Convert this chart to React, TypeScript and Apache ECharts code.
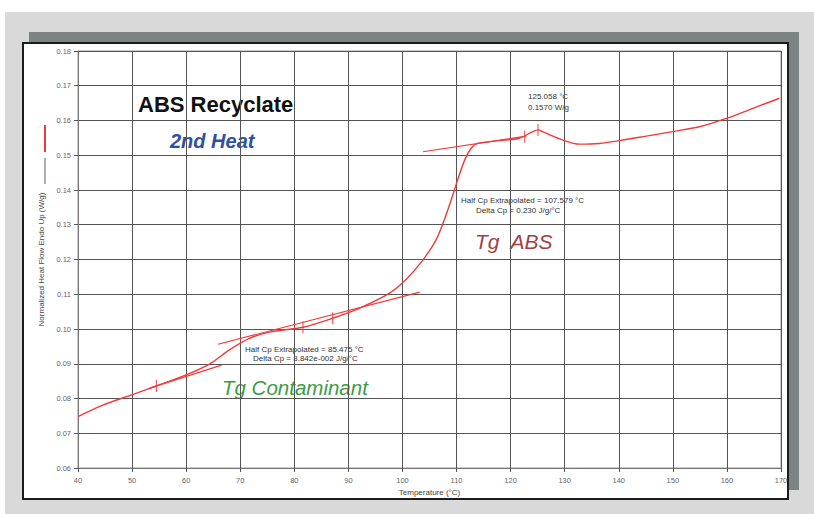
import React, { useEffect, useRef } from "react";
import * as echarts from "echarts";

const temps = [40, 44.6, 50.2, 54.5, 60.0, 64.3, 68.0, 71.7, 75.4, 81.6, 87.1, 92.1, 97.6, 100.7, 103.8, 106.2, 107.5, 109.0, 110.2, 111.5, 112.7, 113.9, 117.9, 121.6, 124.1, 125.06, 126.0, 129.6, 132.7, 136.4, 140.1, 145.1, 150.0, 154.9, 159.9, 164.8, 169.7];
const heatFlow = [0.0748, 0.0781, 0.0812, 0.0836, 0.0868, 0.0899, 0.094, 0.0973, 0.0991, 0.1005, 0.1031, 0.106, 0.1103, 0.1143, 0.1199, 0.1256, 0.1304, 0.1371, 0.1429, 0.1486, 0.152, 0.1534, 0.1542, 0.1549, 0.1568, 0.1573, 0.1567, 0.1544, 0.1532, 0.1534, 0.1542, 0.1555, 0.1568, 0.1582, 0.1606, 0.1635, 0.1664];

const tangentContaminantLow = [[53.25, 0.083], [66.56, 0.0896]];
const tangentContaminantHigh = [[65.9, 0.0956], [103.2, 0.1106]];
const tangentAbsHigh = [[103.8, 0.151], [122.9, 0.1555]];
const analysisMarks = [[54.5, 0.0836], [81.6, 0.1005], [87.1, 0.1031], [122.6, 0.1553], [125.06, 0.1573]];

const xMin = 40;
const xMax = 170;
const yMin = 0.06;
const yMax = 0.18;

const RED = "#f03a3a";
const FONT = "Liberation Sans, Arial, sans-serif";

export default function App() {
  const ref = useRef<HTMLDivElement>(null);
  useEffect(() => {
    if (!ref.current) return;
    const chart = echarts.init(ref.current, undefined, { renderer: "svg" });
    const lineSeries = (data: number[][]) => ({
      type: "line",
      data,
      symbol: "none",
      lineStyle: { color: RED, width: 1.2 },
      z: 3,
    });
    const small = (text: string, x: number, y: number) => ({
      type: "text",
      x,
      y,
      style: { text, fill: "#333", font: `8px ${FONT}` },
    });
    chart.setOption({
      animation: false,
      backgroundColor: "transparent",
      grid: { left: 78, right: 33, top: 51, bottom: 46, show: true, borderColor: "#999", borderWidth: 1 },
      xAxis: {
        type: "value",
        min: xMin,
        max: xMax,
        interval: 10,
        name: "Temperature (°C)",
        nameLocation: "middle",
        nameGap: 20,
        nameTextStyle: { fontSize: 8, color: "#444", fontFamily: FONT },
        axisLine: { show: true, lineStyle: { color: "#777" } },
        axisTick: { show: true, length: 4, lineStyle: { color: "#555" } },
        axisLabel: { fontSize: 7.5, color: "#666", fontFamily: FONT, margin: 8 },
        splitLine: { show: true, lineStyle: { color: "#555", width: 1 } },
      },
      yAxis: {
        type: "value",
        min: yMin,
        max: yMax,
        interval: 0.01,
        name: "Normalized Heat Flow Endo Up (W/g)",
        nameLocation: "middle",
        nameGap: 25,
        nameRotate: 90,
        nameTextStyle: { fontSize: 8, color: "#444", fontFamily: FONT },
        axisLine: { show: true, lineStyle: { color: "#777" } },
        axisTick: { show: true, length: 4, lineStyle: { color: "#555" } },
        axisLabel: { fontSize: 7.5, color: "#666", fontFamily: FONT, margin: 7, formatter: (v: number) => v.toFixed(2) },
        splitLine: { show: true, lineStyle: { color: "#555", width: 1 } },
      },
      series: [
        {
          type: "line",
          data: temps.map((t, i) => [t, heatFlow[i]]),
          symbol: "none",
          smooth: 0.3,
          lineStyle: { color: RED, width: 1.4 },
          z: 4,
        },
        lineSeries(tangentContaminantLow),
        lineSeries(tangentContaminantHigh),
        lineSeries(tangentAbsHigh),
        {
          type: "scatter",
          data: analysisMarks,
          symbol: "rect",
          symbolSize: [1.2, 12],
          itemStyle: { color: RED },
          z: 5,
        },
      ],
      graphic: [
        { type: "line", shape: { x1: 45, y1: 125, x2: 45, y2: 152 }, style: { stroke: RED, lineWidth: 2 } },
        { type: "line", shape: { x1: 45, y1: 158, x2: 45, y2: 184 }, style: { stroke: "#b0b0b0", lineWidth: 2 } },
        { type: "text", x: 138, y: 93, style: { text: "ABS Recyclate", fill: "#111", font: `bold 22px ${FONT}` } },
        { type: "text", x: 170, y: 131, style: { text: "2nd Heat", fill: "#2e4fa6", font: `italic bold 20px ${FONT}` } },
        { type: "text", x: 475, y: 231, style: { text: "Tg  ABS", fill: "#9e4242", font: `italic 21px ${FONT}` } },
        { type: "text", x: 222, y: 377, style: { text: "Tg Contaminant", fill: "#3c9c46", font: `italic 20.5px ${FONT}` } },
        small("125.058 °C", 528, 92),
        small("0.1570 W/g", 528, 103),
        small("Half Cp Extrapolated = 107.579 °C", 461, 196),
        small("Delta Cp = 0.230 J/g/°C", 476, 206),
        small("Half Cp Extrapolated = 85.475 °C", 245, 345),
        small("Delta Cp = 8.842e-002 J/g/°C", 253, 354),
      ],
    });
    return () => chart.dispose();
  }, []);

  return (
    <div style={{ position: "fixed", left: 0, top: 0, width: 814, height: 514, background: "#fff", overflow: "hidden" }}>
      <div style={{ position: "absolute", left: 5, top: 12, width: 809, height: 502, background: "#d9d9d9" }} />
      <div style={{ position: "absolute", left: 29, top: 32, width: 770, height: 458, background: "#7b8384" }} />
      <div style={{ position: "absolute", left: 22, top: 42, width: 763, height: 454, background: "#fff", border: "2.5px solid #1c1c1c" }} />
      <div ref={ref} style={{ position: "absolute", left: 0, top: 0, width: 814, height: 514 }} />
    </div>
  );
}
